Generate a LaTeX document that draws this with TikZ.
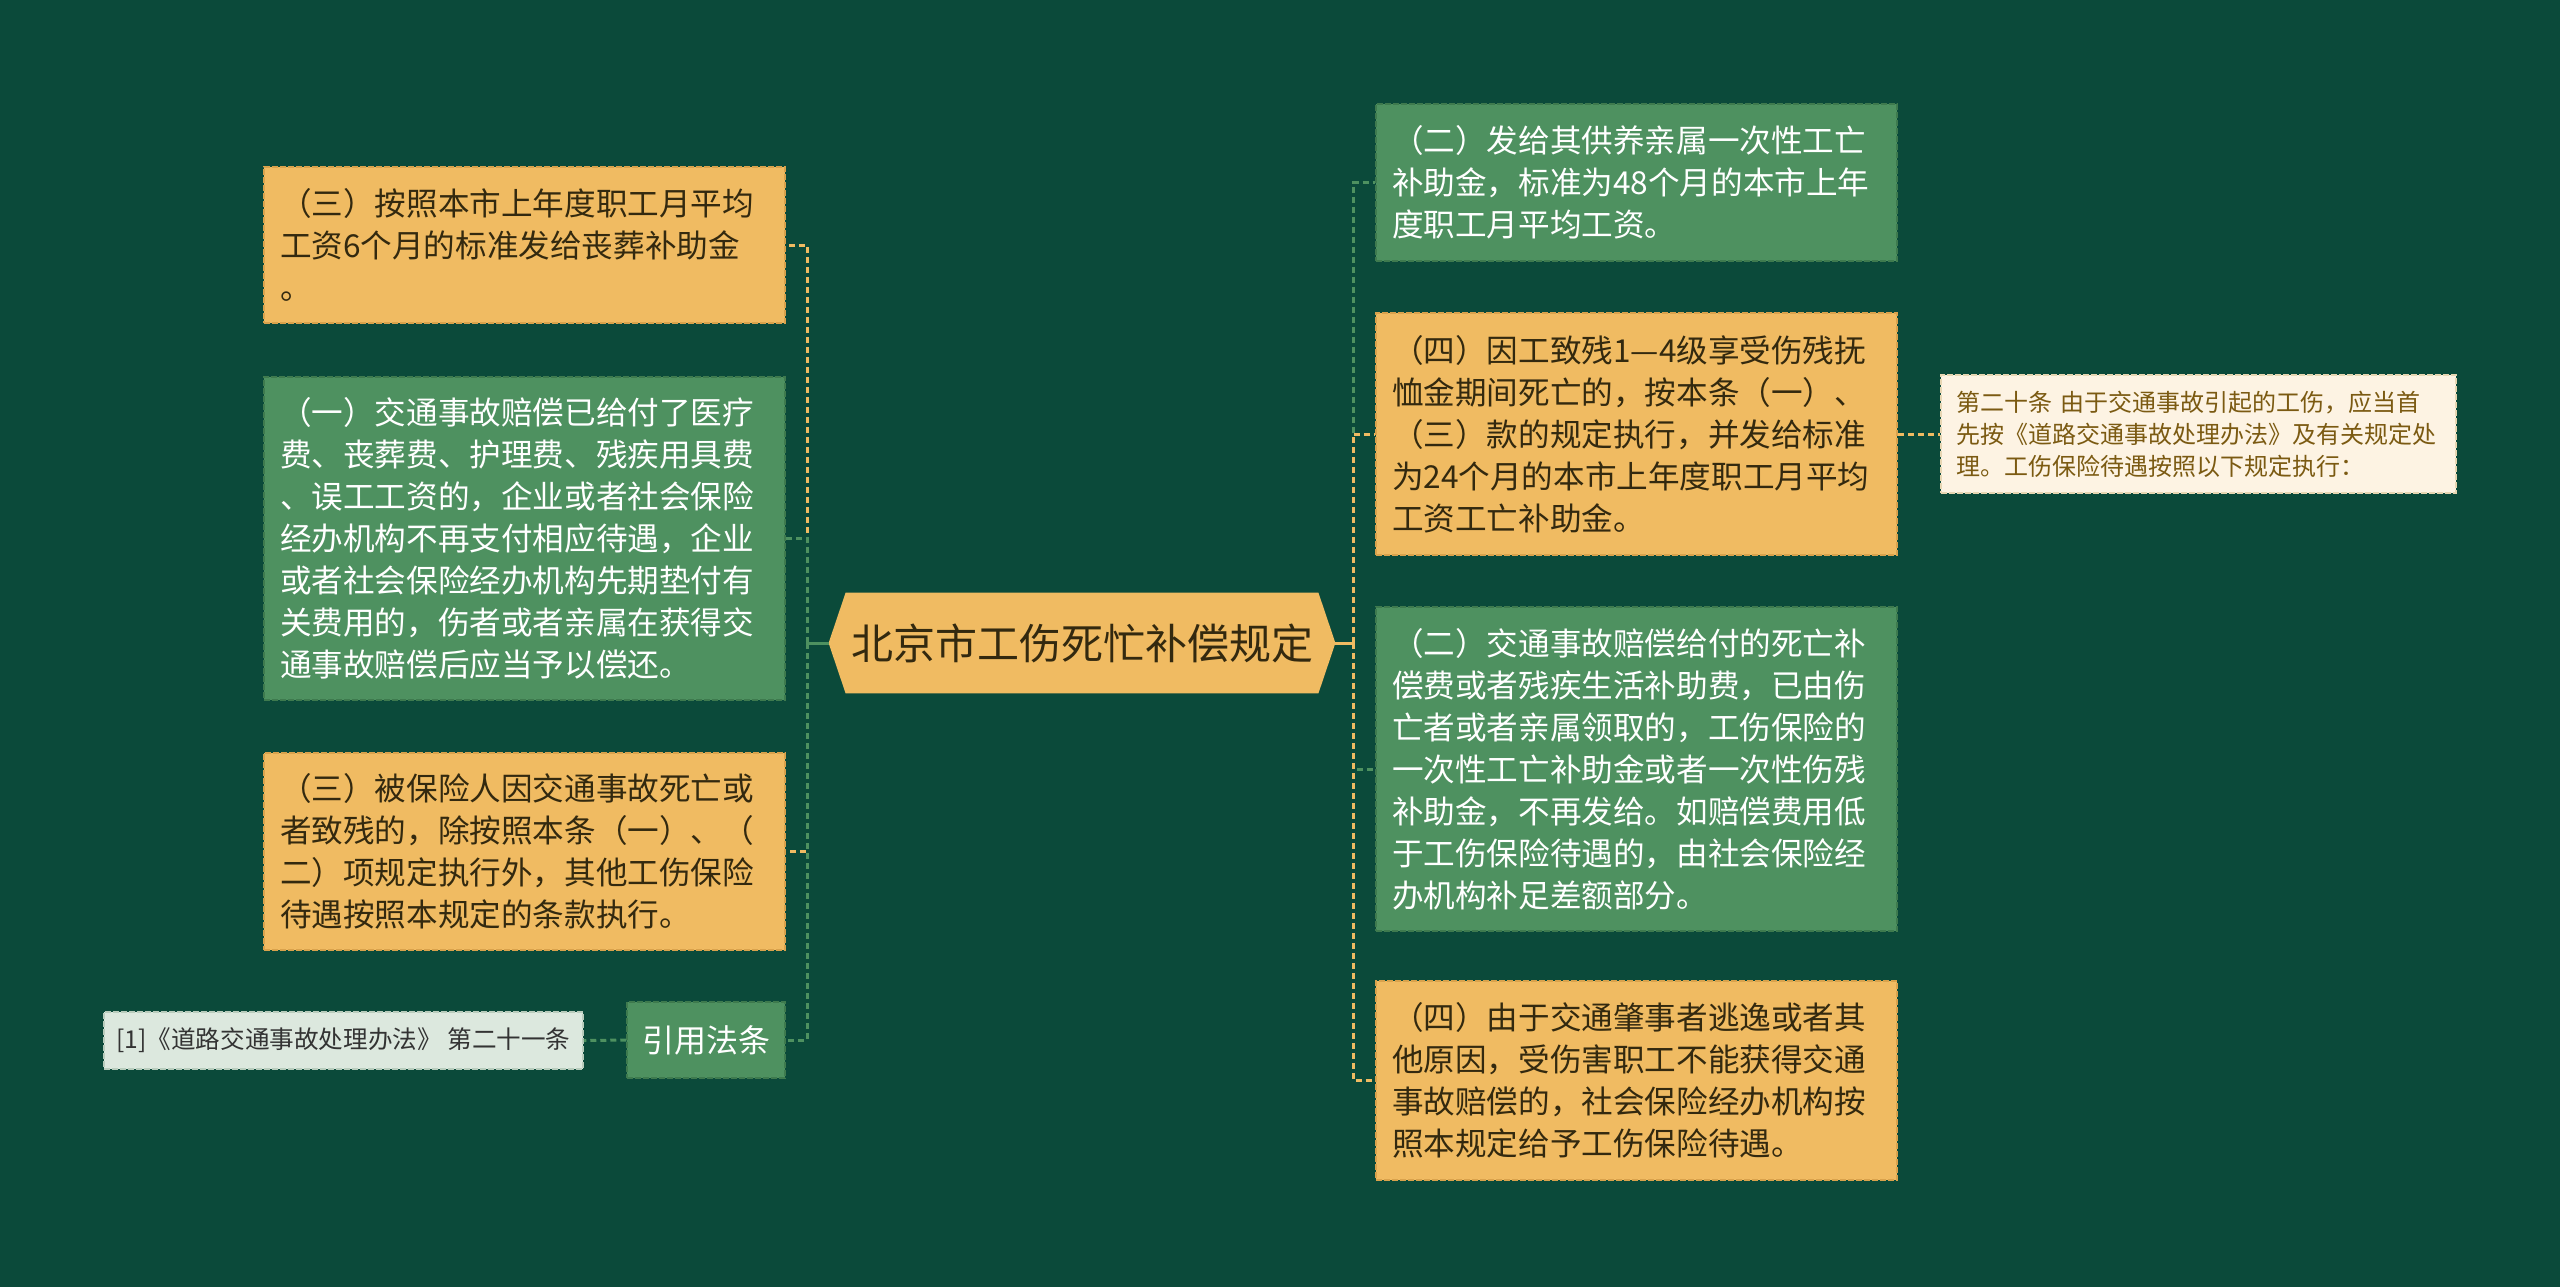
\documentclass[tikz,border=0pt]{standalone}
\usepackage{fontspec}
\setmainfont{Noto Sans CJK SC}
\definecolor{bg}{HTML}{0B4A3A}
\definecolor{orfill}{HTML}{F0BB62}
\definecolor{orline}{HTML}{D9A24C}
\definecolor{ortext}{HTML}{33290F}
\definecolor{grfill}{HTML}{4E9160}
\definecolor{grline}{HTML}{3E7A4E}
\definecolor{crfill}{HTML}{FDF3E3}
\definecolor{crline}{HTML}{E6D6B2}
\definecolor{crtext}{HTML}{7B5A12}
\definecolor{refill}{HTML}{DCE8DE}
\definecolor{reline}{HTML}{B8CCBC}
\definecolor{retext}{HTML}{333333}
\begin{document}
\begin{tikzpicture}[x=0.5pt,y=-0.5pt,
  box/.style={rectangle, inner xsep=8pt, inner ysep=0pt, align=left,
    text width=244.5pt, font=\fontsize{15.8pt}{21pt}\selectfont,
    dash pattern=on 3pt off 1pt, line width=0.75pt},
  obox/.style={box, fill=orfill, draw=orline, text=ortext},
  gbox/.style={box, fill=grfill, draw=grline, text=white},
  conn/.style={line width=1.5pt, dash pattern=on 3pt off 2pt},
  stub/.style={line width=1.5pt},
]
\fill[bg] (0,0) rectangle (2560,1287);
\useasboundingbox (0,0) rectangle (2560,1287);

% root
\node[minimum width=236pt, minimum height=50pt, inner sep=0pt] (root) at (1082,643) {};
\coordinate (rootL) at ([xshift=-8.5pt]root.west);
\coordinate (rootR) at ([xshift=8.5pt]root.east);
\fill[orfill] (root.north west) -- (root.north east) -- (rootR) -- (root.south east)
  -- (root.south west) -- (rootL) -- cycle;
\node[font=\fontsize{21pt}{25pt}\selectfont, text=ortext] (roottext) at (root.center) {北京市工伤死忙补偿规定};

% left nodes
\node[obox, minimum height=78pt] (L1) at (524.5,245) {（三）按照本市上年度职工月平均\\工资6个月的标准发给丧葬补助金\\。};
\node[gbox, minimum height=161.5pt] (L2) at (524.5,538.5) {（一）交通事故赔偿已给付了医疗\\费、丧葬费、护理费、残疾用具费\\、误工工资的，企业或者社会保险\\经办机构不再支付相应待遇，企业\\或者社会保险经办机构先期垫付有\\关费用的，伤者或者亲属在获得交\\通事故赔偿后应当予以偿还。};
\node[obox, minimum height=98.5pt] (L3) at (524.5,851.5) {（三）被保险人因交通事故死亡或\\者致残的，除按照本条（一）、（\\二）项规定执行外，其他工伤保险\\待遇按照本规定的条款执行。};
\node[rectangle, fill=grfill, draw=grline, dash pattern=on 3pt off 1pt, line width=0.75pt,
  minimum width=79pt, minimum height=38pt, inner sep=0pt, text=white,
  font=\fontsize{16pt}{20pt}\selectfont] (cite) at (706,1040) {引用法条};
\node[rectangle, fill=refill, draw=reline, dash pattern=on 3pt off 1pt, line width=0.75pt,
  minimum width=239.5pt, minimum height=28.5pt, inner sep=0pt, text=retext,
  font=\fontsize{12.3pt}{15pt}\selectfont] (ref) at (343.5,1040.5) {[1]《道路交通事故处理办法》 第二十一条};

% right nodes
\node[gbox, minimum height=78.5pt] (R1) at (1636.5,182.5) {（二）发给其供养亲属一次性工亡\\补助金，标准为48个月的本市上年\\度职工月平均工资。};
\node[obox, minimum height=121pt] (R2) at (1636.5,434) {（四）因工致残1—4级享受伤残抚\\恤金期间死亡的，按本条（一）、\\（三）款的规定执行，并发给标准\\为24个月的本市上年度职工月平均\\工资工亡补助金。};
\node[gbox, minimum height=162pt] (R3) at (1636.5,769) {（二）交通事故赔偿给付的死亡补\\偿费或者残疾生活补助费，已由伤\\亡者或者亲属领取的，工伤保险的\\一次性工亡补助金或者一次性伤残\\补助金，不再发给。如赔偿费用低\\于工伤保险待遇的，由社会保险经\\办机构补足差额部分。};
\node[obox, minimum height=99.5pt] (R4) at (1636.5,1080.5) {（四）由于交通肇事者逃逸或者其\\他原因，受伤害职工不能获得交通\\事故赔偿的，社会保险经办机构按\\照本规定给予工伤保险待遇。};
\node[rectangle, fill=crfill, draw=crline, dash pattern=on 3pt off 1pt, line width=0.75pt,
  inner xsep=7.5pt, inner ysep=0pt, align=left, text width=242.5pt, minimum height=59pt,
  text=crtext, font=\fontsize{12pt}{16pt}\selectfont] (FR) at (2198.5,434)
  {第二十条 由于交通事故引起的工伤，应当首\\先按《道路交通事故处理办法》及有关规定处\\理。工伤保险待遇按照以下规定执行：};

% connectors left
\coordinate (lv) at (807,643);
\coordinate (rv) at (1353,643);
\draw[conn, orfill] (lv) |- (L1.east);
\draw[conn, grfill] (lv) |- (L2.east);
\draw[conn, orfill] (lv) |- (L3.east);
\draw[conn, grfill] (lv) |- (cite.east);
\draw[stub, grfill] (rootL) -- (lv);
\draw[conn, grfill] (cite.west) -- (ref.east);

% connectors right
\draw[conn, grfill] (rv) |- (R1.west);
\draw[conn, orfill] (rv) |- (R2.west);
\draw[conn, grfill] (rv) |- (R3.west);
\draw[conn, orfill] (rv) |- (R4.west);
\draw[stub, orfill] (rootR) -- (rv);
\draw[conn, orfill] (R2.east) -- (FR.west);
\end{tikzpicture}
\end{document}
